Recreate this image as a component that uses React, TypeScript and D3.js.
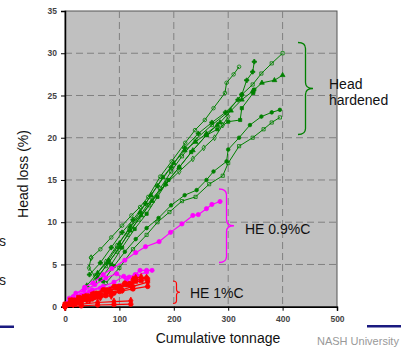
import React, { useEffect, useRef } from "react";
import * as d3 from "d3";

type Pt = [number, number];

// tonnage, head loss (%)
const greenSeries: Pt[][] = [
  [[55, 3], [75, 4.8], [95, 6.5], [115, 8.5], [135, 10.3], [155, 12], [175, 14], [195, 16], [215, 17.8], [240, 19.8], [270, 21.5], [297, 22.9], [325, 25.1], [345, 26.3], [361, 27.6], [380, 28.8], [400, 30]],
  [[60, 3.5], [80, 5.2], [100, 7], [120, 9], [140, 10.8], [160, 12.5], [185, 14.5], [210, 16.5], [235, 18.5], [260, 20.3], [285, 21.8], [305, 23.2], [325, 24.5], [345, 25.5], [362, 26.5], [385, 26.8], [400, 27.4]],
  [[45, 3.8], [65, 5.2], [85, 7], [105, 8.8], [125, 10.3], [148, 12.2], [170, 14.3], [195, 16.5], [220, 18.8], [245, 20.5], [270, 21.8], [295, 23], [318, 24.5], [325, 25.1], [334, 26.8], [345, 27.8], [348, 29]],
  [[48, 5.8], [65, 6.8], [85, 8.2], [105, 9.6], [122, 10.8], [138, 11.8], [153, 13], [175, 15.4], [196, 17.2], [221, 19.4], [239, 20.9], [257, 22.1], [273, 23.5], [294, 25.3], [297, 26.5], [310, 27.5], [320, 28.4]],
  [[65, 3.2], [85, 5], [105, 7], [128, 9.2], [150, 11], [170, 13], [190, 15], [210, 16.5], [232, 18.3], [260, 20.3], [280, 21], [300, 21.9], [322, 22.1], [325, 23.5], [346, 25.3], [348, 25.7]],
  [[70, 3], [90, 4.8], [110, 6.5], [130, 8], [150, 9.3], [172, 10.5], [195, 12], [220, 13.2], [242, 13.8], [260, 15], [273, 16], [297, 17.2], [300, 18.6], [320, 20], [340, 21.5], [361, 22.5], [380, 23], [395, 23.3]],
  [[75, 2.8], [100, 4.6], [125, 6.8], [150, 8.5], [170, 10], [192, 11.2], [215, 12.5], [240, 13], [265, 14.5], [290, 15.5], [300, 17], [320, 19], [345, 20], [365, 21], [380, 21.8], [395, 22.4]],
  [[48, 5.8], [44, 4.6], [55, 3.6], [75, 5.3], [95, 7.2], [118, 9.2], [140, 11], [160, 12.8], [185, 14.5], [210, 16], [235, 17.5], [255, 18.8], [275, 20], [290, 21.5], [300, 22.5]],
  [[40, 2.5], [60, 4], [80, 5.5], [100, 7.5], [120, 9.5], [138, 11.2], [158, 13.2], [180, 15.3], [200, 17], [220, 18.5], [240, 19.5], [260, 20.5], [280, 21.5]],
];

const magentaSeries: Pt[][] = [
  [[15, 1.2], [36, 2.3], [51, 2.8], [70, 3.8], [86, 4.5], [110, 5.5], [130, 6.4], [148, 7.1], [173, 7.7], [194, 8.8], [215, 9.8], [235, 10.8], [245, 10.9], [260, 11.6], [270, 12.1], [285, 12.45]],
  [[10, 0.8], [30, 1.4], [50, 2], [70, 2.4], [90, 2.9], [108, 3.6], [118, 3.5], [129, 3.8], [138, 4.3], [150, 4.3], [160, 4.3]],
  [[5, 0.5], [25, 1.2], [45, 1.8], [65, 2.2], [83, 2.2], [100, 2.5], [119, 2.8], [140, 3.2]],
  [[8, 1], [20, 1.6], [35, 1.9], [55, 2.6], [75, 3.4], [95, 3.9], [113, 3.2], [132, 3.7], [150, 4.1]],
];

const redSeries: Pt[][] = [
  [[0, 0.2], [15, 0.6], [30, 1], [50, 1.5], [70, 2], [90, 2.4], [110, 2.8], [130, 3.2], [150, 3.4]],
  [[0, 0.1], [20, 0.6], [40, 1], [60, 1.4], [80, 1.8], [100, 2.3], [120, 2.7], [140, 3.1], [152, 3.2]],
  [[0, 0], [20, 0.4], [40, 0.8], [60, 1.2], [85, 1.7], [105, 2], [125, 2.4], [152, 2.9]],
  [[0, 0.1], [25, 0.5], [50, 0.9], [75, 1.3], [100, 1.8], [125, 2.1], [152, 2.4]],
  [[2, 0.3], [15, 0.8], [35, 1.2], [55, 1.6], [75, 2], [95, 2.4], [110, 2.6], [124, 2.2]],
  [[0, 0], [30, 0.3], [60, 0.5], [90, 0.6], [121, 0.7]],
  [[0, 0], [30, 0.1], [60, 0.2], [90, 0.25], [121, 0.3]],
  [[0, 0.3], [10, 0.8], [25, 1.1], [40, 1.3], [60, 1.6], [80, 1.9], [95, 2.2], [115, 2.6], [130, 3]],
  [[0, 0], [15, 0.3], [30, 0.5], [45, 0.8], [65, 1.1], [85, 1.3]],
  [[0, 0.1], [20, 0.5], [40, 0.9], [55, 1.1], [75, 1.5], [90, 1.6], [105, 1.9]],
  [[1, 0.2], [10, 0.4], [20, 0.7], [35, 1], [50, 1.2], [65, 1.4]],
  [[125, 3.2], [130, 3.4], [140, 3.5], [150, 3.4]],
];

const xTicks = [0, 100, 200, 300, 400, 500];
const yTicks = [0, 5, 10, 15, 20, 25, 30, 35];

const GREEN = "#008000";
const MAGENTA = "#ff00ff";
const RED = "#ff0000";
const FONT = "Liberation Sans, Arial, sans-serif";

export default function App() {
  const ref = useRef<SVGSVGElement>(null);

  useEffect(() => {
    const svg = d3.select(ref.current);
    svg.selectAll("*").remove();

    const left = 65, right = 337, top = 11, bottom = 306.7;
    const x = d3.scaleLinear().domain([0, 500]).range([left, right]);
    const y = d3.scaleLinear().domain([0, 35]).range([bottom, top]);

    // slide leftovers around the chart
    svg.append("rect").attr("x", 0).attr("y", 325.5).attr("width", 14).attr("height", 2.5).attr("fill", "#1a1a80");
    svg.append("rect").attr("x", 367).attr("y", 325).attr("width", 34).attr("height", 2.5).attr("fill", "#1a1a80");
    [246, 285].forEach((by) =>
      svg.append("text").attr("x", -1).attr("y", by).attr("font-family", FONT).attr("font-size", 14).attr("fill", "#222").text("s")
    );
    svg.append("text").attr("x", 317).attr("y", 345).attr("font-family", FONT).attr("font-size", 11)
      .attr("fill", "#999").text("NASH University");

    // plot area
    svg.append("rect").attr("x", left).attr("y", top).attr("width", right - left).attr("height", bottom - top)
      .attr("fill", "#c0c0c0").attr("stroke", "#555").attr("stroke-width", 1);

    const grid = svg.append("g").attr("stroke", "#808080").attr("stroke-width", 1).attr("stroke-dasharray", "7,4");
    yTicks.filter((t) => t > 0 && t < 35).forEach((t) =>
      grid.append("line").attr("x1", left).attr("x2", right).attr("y1", y(t)).attr("y2", y(t))
    );
    xTicks.filter((t) => t > 0 && t < 500).forEach((t) =>
      grid.append("line").attr("y1", top).attr("y2", bottom).attr("x1", x(t)).attr("x2", x(t))
    );

    // axes
    const yAxis = svg.append("g").attr("transform", `translate(${left},0)`)
      .call(d3.axisLeft(y).tickValues(yTicks).tickSize(4).tickPadding(4));
    const xAxis = svg.append("g").attr("transform", `translate(0,${bottom})`)
      .call(d3.axisBottom(x).tickValues(xTicks).tickSize(4).tickPadding(5));
    [yAxis, xAxis].forEach((a) => {
      a.select(".domain").attr("stroke", "#000").attr("stroke-width", 1.5);
      a.selectAll(".tick line").attr("stroke", "#000");
      a.selectAll(".tick text").attr("font-family", FONT).attr("font-size", 8.5)
        .attr("font-weight", "bold").attr("fill", "#444");
    });

    const line = d3.line<Pt>().x((d) => x(d[0])).y((d) => y(d[1]));
    const greenSyms = [d3.symbolSquare, d3.symbolTriangle, d3.symbolCross, d3.symbolCircle, d3.symbolSquare, d3.symbolCircle, d3.symbolSquare, d3.symbolDiamond, d3.symbolTriangle];

    const drawGroup = (series: Pt[][], color: string, width: number, syms: d3.SymbolType[], size: number, open: (i: number) => boolean) => {
      series.forEach((s, i) => {
        const g = svg.append("g");
        g.append("path").datum(s).attr("d", line).attr("fill", "none").attr("stroke", color).attr("stroke-width", width);
        const sym = d3.symbol().type(syms[i % syms.length]).size(size);
        g.selectAll("path.m").data(s).enter().append("path").attr("class", "m")
          .attr("transform", (d) => `translate(${x(d[0])},${y(d[1])})`)
          .attr("d", sym)
          .attr("fill", open(i) ? "none" : color)
          .attr("stroke", color).attr("stroke-width", 0.8);
      });
    };

    drawGroup(greenSeries, GREEN, 1, greenSyms, 10, (i) => i % 3 === 0 || i === 7);
    drawGroup(magentaSeries, MAGENTA, 1.2, [d3.symbolCircle], 14, () => false);
    drawGroup(redSeries, RED, 1.2, [d3.symbolCircle, d3.symbolSquare, d3.symbolDiamond], 16, () => false);

    // braces
    const brace = (bx: number, y1: number, y2: number, w: number, r: number) => {
      const xm = bx + w * 0.5, ym = (y1 + y2) / 2, xp = bx + w;
      return `M${bx},${y1} Q${xm},${y1} ${xm},${y1 + r} L${xm},${ym - r} Q${xm},${ym} ${xp},${ym}` +
        ` Q${xm},${ym} ${xm},${ym + r} L${xm},${y2 - r} Q${xm},${y2} ${bx},${y2}`;
    };
    svg.append("path").attr("d", brace(298, 42.5, 134.5, 15, 6)).attr("fill", "none").attr("stroke", GREEN).attr("stroke-width", 1.3);
    svg.append("path").attr("d", brace(219, 189, 262.5, 15, 6)).attr("fill", "none").attr("stroke", MAGENTA).attr("stroke-width", 1.3);
    svg.append("path").attr("d", brace(173, 281, 303.5, 7, 3)).attr("fill", "none").attr("stroke", RED).attr("stroke-width", 1.2);

    const label = (tx: number, ty: number, t: string) =>
      svg.append("text").attr("x", tx).attr("y", ty).attr("font-family", FONT).attr("font-size", 14).attr("fill", "#111").text(t);
    label(329, 88.5, "Head");
    label(329, 105, "hardened");
    label(245, 234, "HE 0.9%C");
    label(190, 297.5, "HE 1%C");

    // axis titles
    svg.append("text").attr("x", 218).attr("y", 342.5).attr("text-anchor", "middle")
      .attr("font-family", FONT).attr("font-size", 14).attr("fill", "#111").text("Cumulative tonnage");
    svg.append("text").attr("transform", "translate(27.5,174) rotate(-90)").attr("text-anchor", "middle")
      .attr("font-family", FONT).attr("font-size", 14).attr("fill", "#111").text("Head loss (%)");
  }, []);

  return <svg ref={ref} width={401} height={350} style={{ position: "absolute", left: 0, top: 0, background: "#fff" }} />;
}
